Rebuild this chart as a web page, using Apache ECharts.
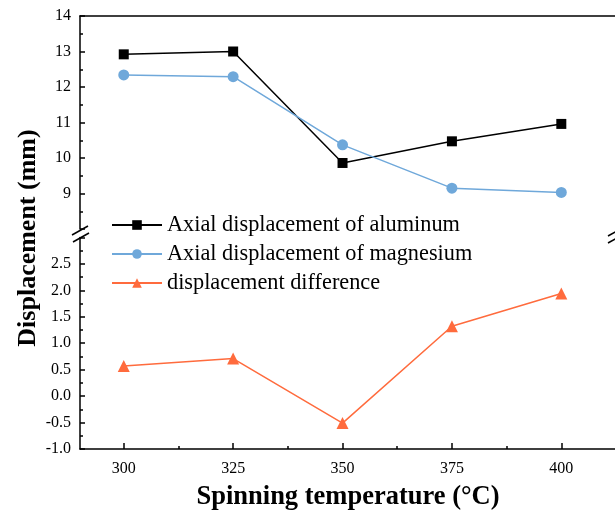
<!DOCTYPE html>
<html>
<head>
<meta charset="utf-8">
<script src="https://cdn.jsdelivr.net/npm/echarts@6/dist/echarts.min.js"></script>
<style>html,body{margin:0;padding:0;background:#fff;}#c{width:615px;height:510px;}</style>
</head>
<body>
<div id="c"></div>
<script>
const temps = [300, 325, 350, 375, 400];
const aluminum = [12.92, 13.0, 9.86, 10.47, 10.96];
const magnesium = [12.34, 12.29, 10.37, 9.15, 9.03];
const difference = [0.57, 0.71, -0.51, 1.32, 1.94];
const xTicks = [300, 325, 350, 375, 400];
const xMinorTicks = [312.5, 337.5, 362.5, 387.5];
const seriesNames = ['Axial displacement of aluminum', 'Axial displacement of magnesium', 'displacement difference'];

const FONT = '"Liberation Serif","Times New Roman",serif';
const pair = (ys) => temps.map((t, i) => [t, ys[i]]);

const chart = echarts.init(document.getElementById('c'), null, {renderer: 'canvas'});
const axisLine = {show: true, onZero: false, lineStyle: {color: '#000', width: 1.5}};
const upperTop = 16, upperH = 213, lowerTop = 237.4, lowerH = 211.6;

chart.setOption({
  animation: false,
  backgroundColor: '#fff',
  grid: [
    {left: 80, top: upperTop, width: 536, height: upperH, containLabel: false, outerBoundsMode: 'none'},
    {left: 80, top: lowerTop, width: 536, height: lowerH, containLabel: false, outerBoundsMode: 'none'}
  ],
  xAxis: [
    {gridIndex: 0, type: 'value', position: 'top', min: 290, max: 412.5,
     axisLine: axisLine, axisTick: {show: false}, axisLabel: {show: false}, splitLine: {show: false}},
    {gridIndex: 1, type: 'value', position: 'bottom', min: 290, max: 412.5,
     axisLine: axisLine,
     axisTick: {show: true, inside: true, length: 6, customValues: xTicks, lineStyle: {color: '#000', width: 1.5}},
     axisLabel: {show: true, customValues: xTicks, margin: 12, color: '#000', fontFamily: FONT, fontSize: 16},
     splitLine: {show: false},
     name: 'Spinning temperature (\u00B0C)', nameLocation: 'middle', nameGap: 35,
     nameTextStyle: {color: '#000', fontFamily: FONT, fontSize: 26.5, fontWeight: 'bold'}},
    {gridIndex: 1, type: 'value', position: 'bottom', min: 290, max: 412.5,
     axisLine: {show: false, onZero: false},
     axisTick: {show: true, inside: true, length: 3, customValues: xMinorTicks, lineStyle: {color: '#000', width: 1.5}},
     axisLabel: {show: false}, splitLine: {show: false}}
  ],
  yAxis: [
    {gridIndex: 0, type: 'value', min: 8, max: 14, interval: 1,
     axisLine: axisLine,
     axisTick: {show: true, inside: true, length: 5, lineStyle: {color: '#000', width: 1.5}},
     minorTick: {show: true, splitNumber: 2, length: 3, lineStyle: {color: '#000', width: 1.5}},
     axisLabel: {color: '#000', fontFamily: FONT, fontSize: 16, margin: 9,
       formatter: v => (v <= 8 ? '' : String(v))},
     splitLine: {show: false}},
    {gridIndex: 1, type: 'value', min: -1, max: 3, interval: 0.5,
     axisLine: axisLine,
     axisTick: {show: true, inside: true, length: 5, lineStyle: {color: '#000', width: 1.5}},
     minorTick: {show: true, splitNumber: 2, length: 3, lineStyle: {color: '#000', width: 1.5}},
     axisLabel: {color: '#000', fontFamily: FONT, fontSize: 16, margin: 9,
       formatter: v => (v >= 3 ? '' : v.toFixed(1))},
     splitLine: {show: false}}
  ],
  legend: {
    orient: 'vertical', left: 111, top: 214, padding: 0, itemWidth: 50, itemHeight: 12, itemGap: 7,
    textStyle: {color: '#000', fontFamily: FONT, fontSize: 22.3, lineHeight: 22},
    data: seriesNames
  },
  series: [
    {name: seriesNames[0], type: 'line', xAxisIndex: 0, yAxisIndex: 0, data: pair(aluminum),
     symbol: 'rect', symbolSize: 10, color: '#000',
     lineStyle: {color: '#000', width: 1.5}, itemStyle: {color: '#000'}},
    {name: seriesNames[1], type: 'line', xAxisIndex: 0, yAxisIndex: 0, data: pair(magnesium),
     symbol: 'circle', symbolSize: 11, color: '#6fa8da',
     lineStyle: {color: '#6fa8da', width: 1.5}, itemStyle: {color: '#6fa8da'}},
    {name: seriesNames[2], type: 'line', xAxisIndex: 1, yAxisIndex: 1, data: pair(difference),
     symbol: 'triangle', symbolSize: 12, color: '#ff6b3d',
     lineStyle: {color: '#ff6b3d', width: 1.5}, itemStyle: {color: '#ff6b3d'}}
  ],
  graphic: [
    {type: 'text', x: 28, y: 238, rotation: Math.PI / 2,
     style: {text: 'Displacement (mm)', fill: '#000', font: 'bold 26px ' + FONT, align: 'center', verticalAlign: 'middle'}},
    {type: 'line', shape: {x1: 72, y1: 235, x2: 88, y2: 226}, style: {stroke: '#000', lineWidth: 1.5}},
    {type: 'line', shape: {x1: 73, y1: 242, x2: 89, y2: 233}, style: {stroke: '#000', lineWidth: 1.5}},
    {type: 'line', shape: {x1: 608, y1: 236, x2: 624, y2: 227}, style: {stroke: '#000', lineWidth: 1.5}},
    {type: 'line', shape: {x1: 608, y1: 243, x2: 624, y2: 234}, style: {stroke: '#000', lineWidth: 1.5}}
  ]
});
</script>
</body>
</html>
